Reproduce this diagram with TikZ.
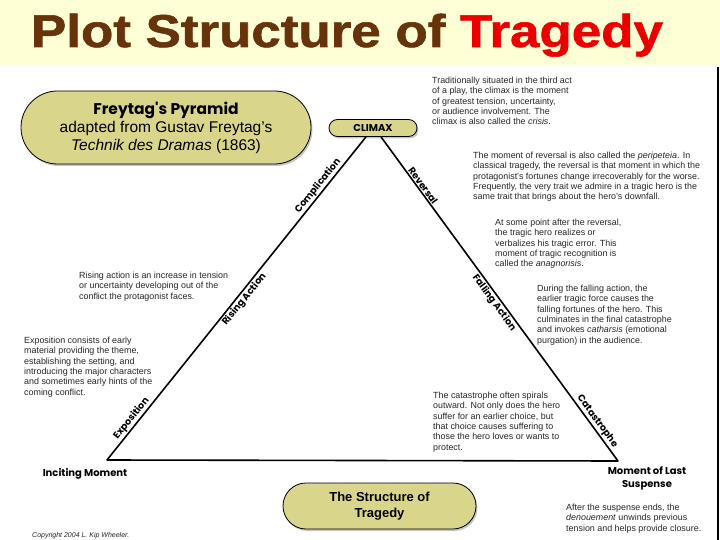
\documentclass[tikz,border=0pt]{standalone}
\usepackage{fontspec}
\setmainfont{Liberation Sans}
\newfontfamily\labelfont{Poppins}
\newfontfamily\titlefont[FakeBold=1.2]{Liberation Sans Bold}
\usetikzlibrary{shapes.misc,shadows}
\definecolor{pillfill}{RGB}{217,214,140}
\definecolor{titlebg}{RGB}{255,255,214}
\definecolor{titlebrown}{RGB}{102,51,10}
\definecolor{titlered}{RGB}{235,0,0}
\tikzset{
  x = 1pt, % one unit per pixel
  y = -1pt, % y grows downwards, like the slide
  pill/.style = { % rounded olive box
    rounded rectangle, % using shapes.misc
    draw = black,
    line width = 0.8pt,
    fill = pillfill,
    inner sep = 0pt, % size comes from minimum width/height
    drop shadow = {shadow xshift=1.5pt, shadow yshift=-2pt, opacity=0.45},
  },
  note/.style = { % explanatory text block
    anchor = north west,
    align = left,
    inner sep = 0pt,
    text = black!85,
    font = \fontsize{8.9}{10.3}\selectfont,
  },
  stage/.style = { % label along a side of the pyramid
    font = \labelfont\bfseries\fontsize{9.5}{11}\selectfont,
    sloped, % follow the side
    inner sep = 1.5pt,
  },
  side/.style = { % pyramid sides
    line width = 1.6pt,
    line join = round,
  },
  mark label/.style = { % labels at the corners
    font = \labelfont\bfseries\fontsize{10}{13}\selectfont,
    align = center,
  },
}

\begin{document}
\begin{tikzpicture}
  \useasboundingbox (0,0) rectangle (720,540);
  \fill[white] (0,0) rectangle (720,540); % slide
  \fill[titlebg] (0,0) rectangle (720,65); % title band
  \draw[line width=2pt] (718,67) -- (718,540); % right rule
  \node[anchor=base, font=\titlefont\fontsize{46}{50}\selectfont, xscale=1.15] (title) at (347,47)
    {\textcolor{titlebrown}{Plot Structure of} \textcolor{titlered}{Tragedy}};
  % boxes
  \node[pill, minimum width=290pt, minimum height=73pt, align=center, font=\fontsize{15.5}{18}\selectfont] (freytag) at (166,127.5)
    {{\labelfont\bfseries Freytag's Pyramid}\\ adapted from Gustav Freytag's\\ \textit{Technik des Dramas} (1863)};
  \node[pill, minimum width=88pt, minimum height=17pt, font=\labelfont\bfseries\fontsize{10}{11}\selectfont] (climax) at (373,128) {CLIMAX};
  \node[pill, minimum width=193pt, minimum height=46pt, align=center, font=\bfseries\fontsize{13}{16}\selectfont] (structure) at (379.5,506)
    {The Structure of\\ Tragedy};
  % pyramid
  \coordinate (incite) at (107,460);
  \coordinate (suspense) at (618,461);
  \draw[side] ([xshift=-7pt]climax.south) -- (incite) -- (suspense) -- ([xshift=8pt]climax.south);
  \foreach \p/\nm/\txt/\where in {0.165/compl/Complication/above,0.49/rising/Rising Action/below,0.885/expo/Exposition/above}{ % left side
    \path ([xshift=-7pt]climax.south) -- (incite) node[stage, pos=\p, \where] (\nm) {\txt};
  }
  \foreach \p/\nm/\txt/\where in {0.16/revers/Reversal/above,0.5/falling/Falling Action/below,0.89/catas/Catastrophe/above}{ % right side
    \path ([xshift=8pt]climax.south) -- (suspense) node[stage, pos=\p, \where] (\nm) {\txt};
  }
  \node[mark label] (inciting) at (85,474) {Inciting Moment};
  \node[mark label] (lastsusp) at (647,478) {Moment of Last\\ Suspense};
  % notes
  \node[note] (climaxnote) at (432,77) {Traditionally situated in the third act\\ of a play, the climax is the moment\\ of greatest tension, uncertainty,\\ or audience involvement. The\\ climax is also called the \textit{crisis}.};
  \node[note] (reversnote) at (473,152) {The moment of reversal is also called the \textit{peripeteia}. In\\ classical tragedy, the reversal is that moment in which the\\ protagonist's fortunes change irrecoverably for the worse.\\ Frequently, the very trait we admire in a tragic hero is the\\ same trait that brings about the hero's downfall.};
  \node[note] (anagnote) at (495,219) {At some point after the reversal,\\ the tragic hero realizes or\\ verbalizes his tragic error. This\\ moment of tragic recognition is\\ called the \textit{anagnorisis}.};
  \node[note] (fallnote) at (537,285) {During the falling action, the\\ earlier tragic force causes the\\ falling fortunes of the hero. This\\ culminates in the final catastrophe\\ and invokes \textit{catharsis} (emotional\\ purgation) in the audience.};
  \node[note] (risenote) at (79,272) {Rising action is an increase in tension\\ or uncertainty developing out of the\\ conflict the protagonist faces.};
  \node[note] (exponote) at (24,337) {Exposition consists of early\\ material providing the theme,\\ establishing the setting, and\\ introducing the major characters\\ and sometimes early hints of the\\ coming conflict.};
  \node[note] (catasnote) at (433,392) {The catastrophe often spirals\\ outward. Not only does the hero\\ suffer for an earlier choice, but\\ that choice causes suffering to\\ those the hero loves or wants to\\ protect.};
  \node[note] (denounote) at (566,504) {After the suspense ends, the\\ \textit{denouement} unwinds previous\\ tension and helps provide closure.};
  \node[note, font=\itshape\fontsize{7}{8}\selectfont] (copyright) at (32,532) {Copyright 2004 L. Kip Wheeler.};
\end{tikzpicture}
\end{document}
